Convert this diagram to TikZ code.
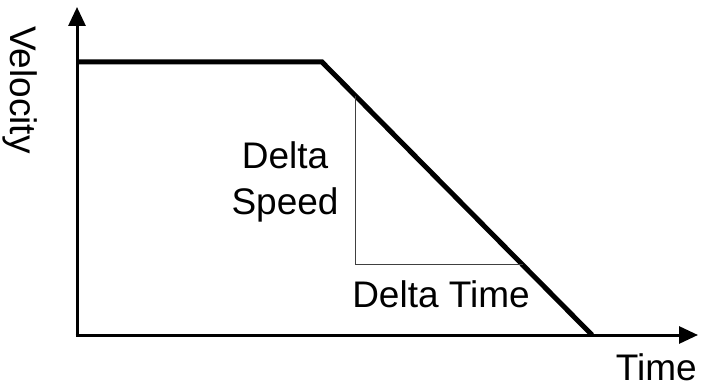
\documentclass[tikz,border=0pt]{standalone}
\usepackage{fontspec}
\setmainfont{Liberation Sans}
\usetikzlibrary{arrows.meta}
\begin{document}
\begin{tikzpicture}[x=1pt,y=-1pt,
  axis/.style={line width=3pt,-{Triangle[length=19pt,width=17pt]}},
  profile/.style={line width=5pt,line join=miter},
  guide/.style={line width=1pt,draw=black!75},
  lbl/.style={font=\fontsize{37}{44}\selectfont,inner sep=0pt}]
\useasboundingbox (0,0) rectangle (701,387);
\coordinate (O) at (77,335);
\coordinate (Ytip) at (77,7);
\coordinate (Xtip) at (698,335);
\coordinate (A) at (77,62);
\coordinate (B) at (322,62);
\coordinate (C) at (592,335);
\coordinate (T1) at (355,96);
\coordinate (T2) at (355,265);
\coordinate (T3) at (523,265);
\draw[axis] (O) -- (Ytip);
\draw[axis] ([xshift=-1.5pt]O) -- (Xtip);
\draw[profile] (A) -- (B) -- (C);
\draw[guide] (T1) -- (T2) -- (T3);
\node[lbl,rotate=-90] (vel) at (20,90) {Velocity};
\node[lbl,align=center] (ds) at (285,182) {Delta\\[2pt]Speed};
\node[lbl] (dt) at (441,294) {Delta Time};
\node[lbl,anchor=east] (tm) at (697,367) {Time};
\end{tikzpicture}
\end{document}
